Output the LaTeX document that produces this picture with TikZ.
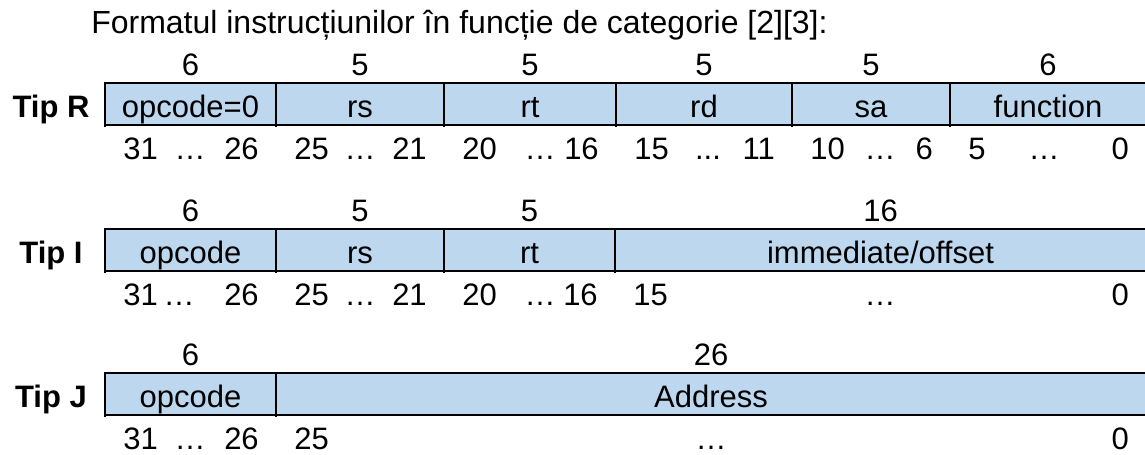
\documentclass[tikz,border=0pt]{standalone}
\usepackage{fontspec}
\setmainfont{Liberation Sans}
\usepackage{tikz}
\usetikzlibrary{positioning}
\definecolor{fieldblue}{HTML}{BDD7EE}
\newcommand{\lowdots}{...}
\tikzset{
  txt/.style={inner sep=0pt,anchor=base,font=\fontsize{23.25}{28}\selectfont},
  tiplbl/.style={txt,font=\fontsize{23.25}{28}\selectfont\bfseries},
  edgerule/.style={line width=2.2pt,black},
  divrule/.style={line width=1.7pt,black},
}

\begin{document}
\begin{tikzpicture}[x=0.75pt,y=-0.75pt]
  \useasboundingbox (0,0) rectangle (1145,454);
  \node[txt,anchor=base west,font=\fontsize{24}{28}\selectfont] (title) at (91,33) {Formatul instrucțiunilor în funcție de categorie [2][3]:};

  % R format
  \begin{scope}[shift={(0,83)}]
    \fill[fieldblue] (105,0) rectangle (1146,42);
    \draw[edgerule] (1146,0) -- (105,0) -- (105,42) -- (1146,42);
    \node[tiplbl] (tipR) at (51,34) {Tip R};
    \foreach \xa/\xb/\w/\fld/\lo/\dts/\xd/\hi [count=\i] in {
        105/276/6/opcode=0/31/…/190/26,
        276/444/5/rs/25/…/360/21,
        444/616/5/rt/20/…/540/16,
        616/792/5/rd/15/\lowdots/708/11,
        792/950/5/sa/10/…/880/6,
        950/1146/6/function/5/…/1044/0}
    {
      \draw[divrule] (\xa,0) -- (\xa,44);
      \node[txt] (R-w\i) at ({(\xa+\xb)/2},-8) {\w};
      \node[txt] (R-f\i) at ({(\xa+\xb)/2},34) {\fld};
      \node[txt,anchor=base west] (R-lo\i) at (\xa+18,76) {\lo};
      \node[txt] (R-d\i) at (\xd,76) {\dts};
      \node[txt,anchor=base east] (R-hi\i) at (\xb-17,76) {\hi};
    }
  \end{scope}

  % I format
  \begin{scope}[shift={(0,229)}]
    \fill[fieldblue] (105,0) rectangle (1146,42);
    \draw[edgerule] (1146,0) -- (105,0) -- (105,42) -- (1146,42);
    \node[tiplbl] (tipI) at (51,34) {Tip I};
    \foreach \xa/\xb/\w/\fld/\lo/\dts/\xd/\hi [count=\i] in {
        105/276/6/opcode/31/…/179/26,
        276/444/5/rs/25/…/360/21,
        444/615/5/rt/20/…/540/16,
        615/1146/16/{immediate/offset}/15/…/880/0}
    {
      \draw[divrule] (\xa,0) -- (\xa,44);
      \node[txt] (I-w\i) at ({(\xa+\xb)/2},-8) {\w};
      \node[txt] (I-f\i) at ({(\xa+\xb)/2},34) {\fld};
      \node[txt,anchor=base west] (I-lo\i) at (\xa+18,76) {\lo};
      \node[txt] (I-d\i) at (\xd,76) {\dts};
      \node[txt,anchor=base east] (I-hi\i) at (\xb-17,76) {\hi};
    }
  \end{scope}

  % J format
  \begin{scope}[shift={(0,373)}]
    \fill[fieldblue] (105,0) rectangle (1146,42);
    \draw[edgerule] (1146,0) -- (105,0) -- (105,42) -- (1146,42);
    \node[tiplbl] (tipJ) at (51,34) {Tip J};
    \foreach \xa/\xb/\w/\fld/\lo/\dts/\xd/\hi [count=\i] in {
        105/276/6/opcode/31/…/190/26,
        276/1146/26/Address/25/…/711/0}
    {
      \draw[divrule] (\xa,0) -- (\xa,44);
      \node[txt] (J-w\i) at ({(\xa+\xb)/2},-8) {\w};
      \node[txt] (J-f\i) at ({(\xa+\xb)/2},34) {\fld};
      \node[txt,anchor=base west] (J-lo\i) at (\xa+18,76) {\lo};
      \node[txt] (J-d\i) at (\xd,76) {\dts};
      \node[txt,anchor=base east] (J-hi\i) at (\xb-17,76) {\hi};
    }
  \end{scope}
\end{tikzpicture}
\end{document}
